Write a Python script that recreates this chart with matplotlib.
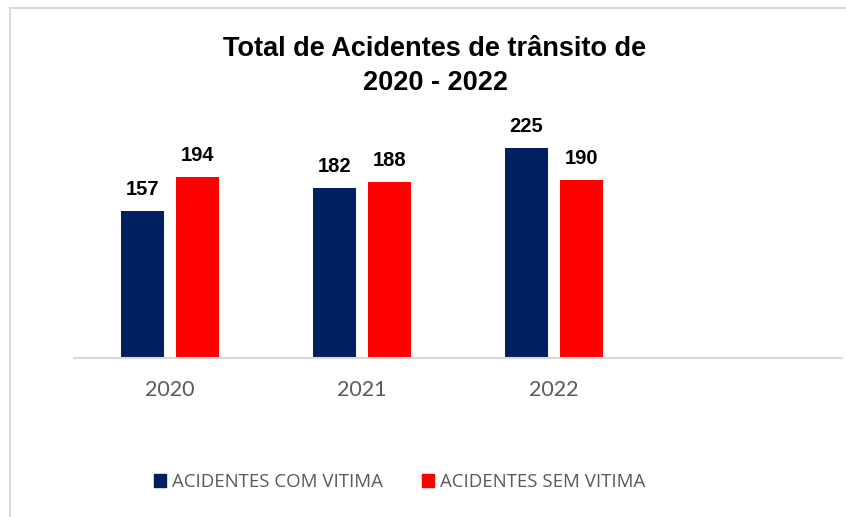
import matplotlib.pyplot as plt
import numpy as np
from matplotlib.lines import Line2D
from matplotlib.patches import Patch

years = ['2020', '2021', '2022']
com_vitima = [157, 182, 225]
sem_vitima = [194, 188, 190]
labels = ['ACIDENTES COM VITIMA', 'ACIDENTES SEM VITIMA']
colors = ['#002060', '#FF0000']

fig = plt.figure(figsize=(8.46, 5.17), dpi=100)
W, H = 846, 517
ax = fig.add_axes([74 / W, 1 - 358 / H, 768 / W, (358 - 130) / H])

x = np.arange(len(years))
bw = 0.224
off = 0.143
b1 = ax.bar(x - off, com_vitima, bw, color=colors[0], label=labels[0])
b2 = ax.bar(x + off, sem_vitima, bw, color=colors[1], label=labels[1])

for bars, vals in [(b1, com_vitima), (b2, sem_vitima)]:
    for rect, v in zip(bars, vals):
        ax.annotate(str(v), (rect.get_x() + rect.get_width() / 2, v),
                    xytext=(0, 11.5), textcoords='offset points',
                    ha='center', va='baseline', fontsize=14.5,
                    fontweight='bold', family='Liberation Sans', color='black')

ax.set_xlim(-0.5, 3.5)
ax.set_ylim(0, 244)
ax.set_xticks(x)
ax.set_xticklabels(years, family='Lato', fontsize=15.5, color='#595959')
ax.tick_params(axis='x', length=0, pad=16)
ax.set_yticks([])
for s in ['top', 'left', 'right']:
    ax.spines[s].set_visible(False)
ax.spines['bottom'].set_color('#D9D9D9')
ax.spines['bottom'].set_linewidth(1.5)

fig.text(435 / W, 1 - 66 / H, 'Total de Acidentes de trânsito de\n2020 - 2022',
         ha='center', va='center', fontsize=19.5, fontweight='bold',
         family='Liberation Sans', linespacing=1.45)

handles = [Patch(color=c) for c in colors]
fig.legend(handles, labels, loc='center', bbox_to_anchor=(400 / W, 1 - 482 / H),
           ncol=2, frameon=False, handlelength=0.64, handleheight=0.64,
           handletextpad=0.33, columnspacing=2.1,
           prop={'family': 'Open Sans', 'size': 13.4}, labelcolor='#595959')

# chart frame (only top and left edges visible)
fig.add_artist(Line2D([10 / W, 1], [1 - 8 / H, 1 - 8 / H], color='#D9D9D9', lw=1.5))
fig.add_artist(Line2D([10 / W, 10 / W], [0, 1 - 8 / H], color='#D9D9D9', lw=1.5))

fig.savefig('out.png', dpi=100)
